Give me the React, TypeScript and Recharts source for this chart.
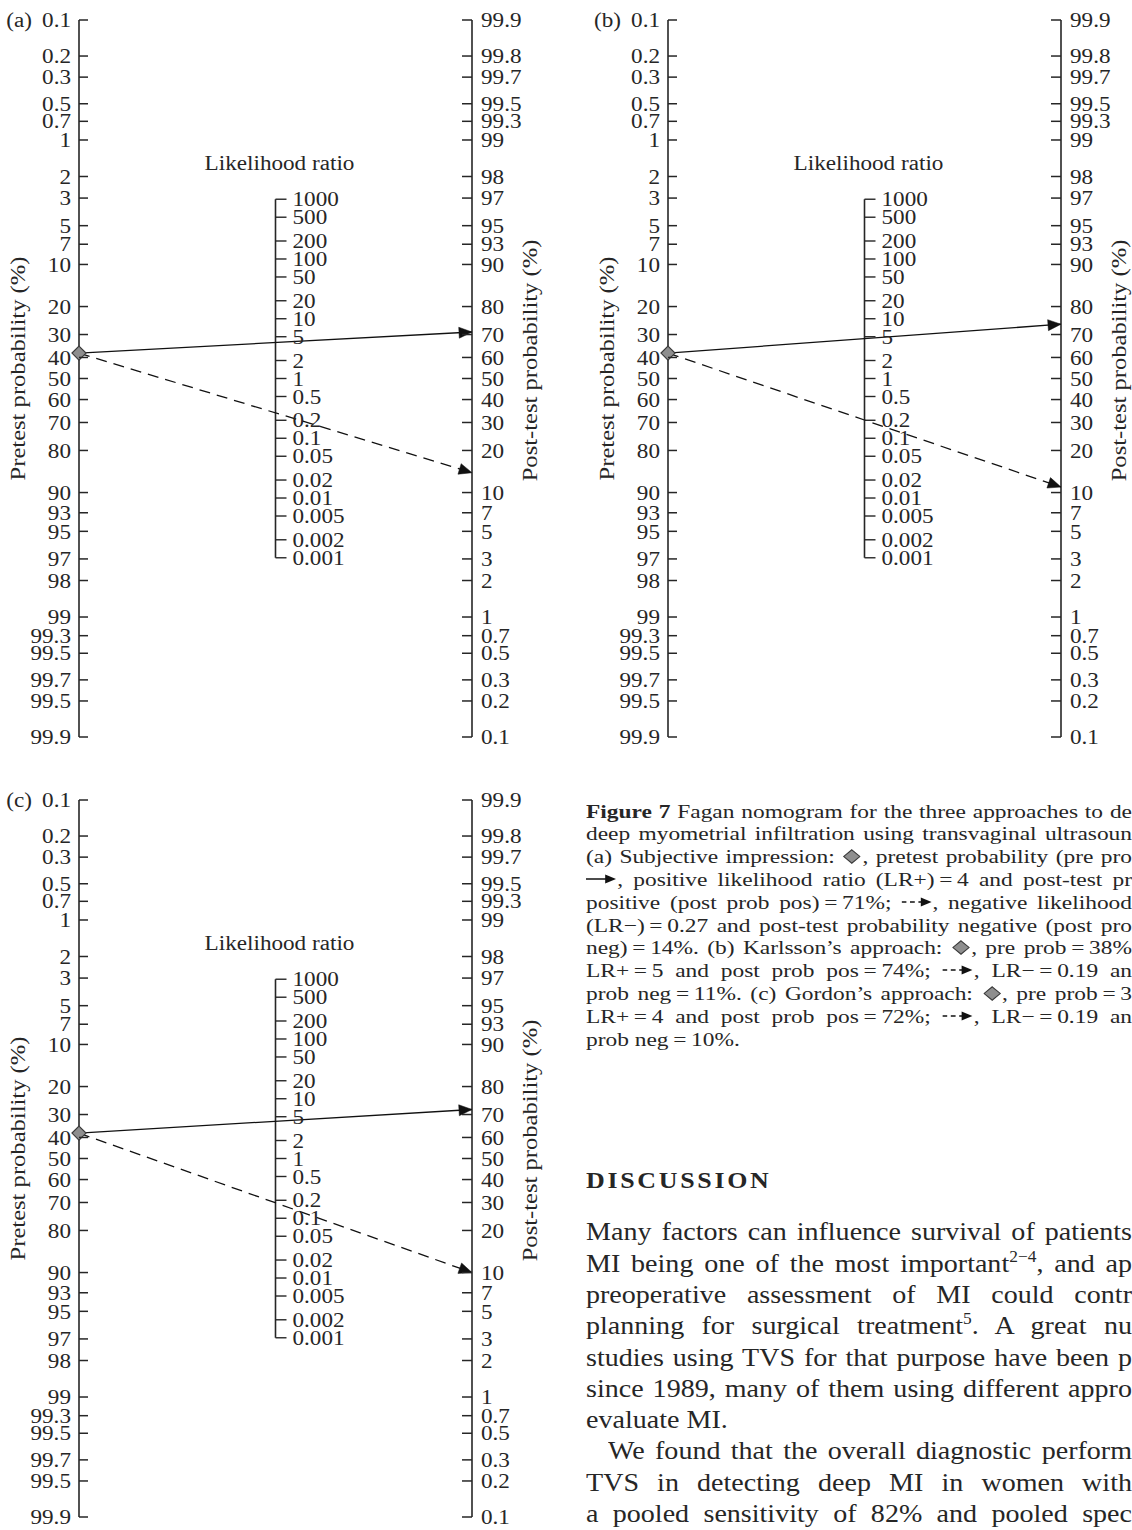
import React from 'react';
import { ComposedChart, XAxis, YAxis, Line, Scatter, ReferenceLine } from 'recharts';

// ---------------- data ----------------
const panelTags = ['(a)', '(b)', '(c)'];
const pretestProb = [38, 38, 38];
const postProbPositive = [71, 74, 72];
const postProbNegative = [14, 11, 10];

const preTickValues = [0.1, 0.2, 0.3, 0.5, 0.7, 1, 2, 3, 5, 7, 10, 20, 30, 40, 50, 60, 70, 80, 90, 93, 95, 97, 98, 99, 99.3, 99.5, 99.7, 99.8, 99.9];
const preTickLabels = ['0.1', '0.2', '0.3', '0.5', '0.7', '1', '2', '3', '5', '7', '10', '20', '30', '40', '50', '60', '70', '80', '90', '93', '95', '97', '98', '99', '99.3', '99.5', '99.7', '99.5', '99.9'];
const postTickValues = [99.9, 99.8, 99.7, 99.5, 99.3, 99, 98, 97, 95, 93, 90, 80, 70, 60, 50, 40, 30, 20, 10, 7, 5, 3, 2, 1, 0.7, 0.5, 0.3, 0.2, 0.1];
const postTickLabels = ['99.9', '99.8', '99.7', '99.5', '99.3', '99', '98', '97', '95', '93', '90', '80', '70', '60', '50', '40', '30', '20', '10', '7', '5', '3', '2', '1', '0.7', '0.5', '0.3', '0.2', '0.1'];
const lrTickValues = [1000, 500, 200, 100, 50, 20, 10, 5, 2, 1, 0.5, 0.2, 0.1, 0.05, 0.02, 0.01, 0.005, 0.002, 0.001];
const lrTickLabels = ['1000', '500', '200', '100', '50', '20', '10', '5', '2', '1', '0.5', '0.2', '0.1', '0.05', '0.02', '0.01', '0.005', '0.002', '0.001'];

const captionLines = [
  '**Figure 7** Fagan nomogram for the three approaches to de',
  'deep myometrial infiltration using transvaginal ultrasoun',
  '(a) Subjective impression: {D}, pretest probability (pre pro',
  '{S}, positive likelihood ratio (LR+) = 4 and post-test pr',
  'positive (post prob pos) = 71%; {A}, negative likelihood',
  '(LR\u2212) = 0.27 and post-test probability negative (post pro',
  'neg) = 14%. (b) Karlsson\u2019s approach: {D}, pre prob = 38%',
  'LR+ = 5 and post prob pos = 74%; {A}, LR\u2212 = 0.19 an',
  'prob neg = 11%. (c) Gordon\u2019s approach: {D}, pre prob = 3',
  'LR+ = 4 and post prob pos = 72%; {A}, LR\u2212 = 0.19 an',
  'prob neg = 10%.',
];
const headingText = 'DISCUSSION';
const discussionLines = [
  'Many factors can influence survival of patients',
  'MI being one of the most important^{2\u22124}, and ap',
  'preoperative assessment of MI could contr',
  'planning for surgical treatment^{5}. A great nu',
  'studies using TVS for that purpose have been p',
  'since 1989, many of them using different appro',
  'evaluate MI.',
  'We found that the overall diagnostic perform',
  'TVS in detecting deep MI in women with',
  'a pooled sensitivity of 82% and pooled spec',
];

// ---------------- helpers ----------------
const FONT = '"Liberation Serif", "Times New Roman", Times, serif';
const INK = '#262626';
const TICK_FS = 20.5;
const TICK_SX = 1.13;

const logit = (pct: number) => Math.log(pct / (100 - pct));
const U_MAX = logit(99.9);
const preTicks = preTickValues.map((p) => -logit(p));
const postTicks = postTickValues.map((p) => logit(p));
const lrData = lrTickValues.map((v, i) => ({ x: 0.5, y: Math.log(v) / 2, label: lrTickLabels[i] }));
const lrTop = Math.log(lrTickValues[0]) / 2;
const lrBottom = Math.log(lrTickValues[lrTickValues.length - 1]) / 2;

const nearestIndex = (arr: number[], v: number) => {
  let best = 0;
  let bd = Infinity;
  arr.forEach((a, i) => {
    const d = Math.abs(a - v);
    if (d < bd) {
      bd = d;
      best = i;
    }
  });
  return best;
};

// text drawn at (x, y) with horizontal stretch (and optional rotation)
const SText = ({ x, y, anchor = 'start', rotate = 0, sx = TICK_SX, children }: any) => (
  <text
    x={0}
    y={0}
    dy="0.35em"
    textAnchor={anchor}
    transform={`translate(${x} ${y}) rotate(${rotate}) scale(${sx} 1)`}
    fontFamily={FONT}
    fontSize={TICK_FS}
    fill={INK}
  >
    {children}
  </text>
);

const PreTick = (props: any) => {
  const { x, y, payload, tag } = props;
  const i = nearestIndex(preTicks, payload.value);
  const v = preTickValues[i];
  return (
    <g>
      <line x1={x} x2={x + 9} y1={y} y2={y} stroke={INK} strokeWidth={1.5} />
      <SText x={x - 8} y={y} anchor="end">
        {preTickLabels[i]}
      </SText>
      {v === 0.1 && (
        <SText x={x - 47} y={y} anchor="end">
          {tag}
        </SText>
      )}
      {v === 50 && (
        <SText x={x - 61} y={y - 10} anchor="middle" rotate={-90} sx={1.2}>
          Pretest probability (%)
        </SText>
      )}
    </g>
  );
};

const PostTick = (props: any) => {
  const { x, y, payload } = props;
  const i = nearestIndex(postTicks, payload.value);
  const v = postTickValues[i];
  return (
    <g>
      <line x1={x - 10} x2={x} y1={y} y2={y} stroke={INK} strokeWidth={1.5} />
      <SText x={x + 9} y={y} anchor="start">
        {postTickLabels[i]}
      </SText>
      {v === 50 && (
        <SText x={x + 58} y={y - 18} anchor="middle" rotate={-90} sx={1.2}>
          Post-test probability (%)
        </SText>
      )}
    </g>
  );
};

const LrTickShape = (props: any) => {
  const { cx, cy, payload } = props;
  return (
    <g>
      <line x1={cx} x2={cx + 11} y1={cy} y2={cy} stroke={INK} strokeWidth={1.4} />
      <SText x={cx + 17} y={cy} anchor="start">
        {payload.label}
      </SText>
    </g>
  );
};

const TitleShape = (props: any) => {
  const { cx, cy, payload } = props;
  return (
    <SText x={cx + 4} y={cy - 36} anchor="middle">
      {payload.label}
    </SText>
  );
};

const DiamondShape = (props: any) => {
  const { cx, cy } = props;
  const r = 7;
  return (
    <polygon
      points={`${cx},${cy - r} ${cx + r},${cy} ${cx},${cy + r} ${cx - r},${cy}`}
      fill="#8e8e8e"
      stroke="#3a3a3a"
      strokeWidth={1.2}
    />
  );
};

const ArrowDot = (props: any) => {
  const { cx, cy, index, points } = props;
  if (index !== 1 || cx == null || cy == null) return <g key={`ad-${index}`} />;
  let ang = 0;
  if (points && points.length > 1) {
    ang = Math.atan2(points[1].y - points[0].y, points[1].x - points[0].x);
  }
  const L = 13;
  const W = 5.5;
  const c = Math.cos(ang);
  const s = Math.sin(ang);
  const bx = cx - L * c;
  const by = cy - L * s;
  const p1 = `${cx},${cy}`;
  const p2 = `${bx - W * s},${by + W * c}`;
  const p3 = `${bx + W * s},${by - W * c}`;
  return <polygon key={`ad-${index}`} points={`${p1} ${p2} ${p3}`} fill="#111" stroke="#111" strokeWidth={0.5} />;
};

function Nomogram({ idx }: { idx: number }) {
  const uPre = -logit(pretestProb[idx]);
  const posData = [
    { x: 0, y: uPre },
    { x: 1, y: logit(postProbPositive[idx]) },
  ];
  const negData = [
    { x: 0, y: uPre },
    { x: 1, y: logit(postProbNegative[idx]) },
  ];
  const preData = [{ x: 0, y: uPre }];
  const titleData = [{ x: 0.5, y: lrTop, label: 'Likelihood ratio' }];
  return (
    <ComposedChart width={560} height={760} margin={{ top: 20, right: 28, bottom: 23, left: 19 }}>
      <XAxis type="number" dataKey="x" domain={[0, 1]} hide />
      <YAxis
        yAxisId="u"
        orientation="left"
        type="number"
        domain={[-U_MAX, U_MAX]}
        ticks={preTicks}
        interval={0}
        tickSize={0}
        tickMargin={0}
        tickLine={false}
        axisLine={{ stroke: INK, strokeWidth: 1.6 }}
        tick={(p: any) => <PreTick {...p} tag={panelTags[idx]} />}
        width={60}
      />
      <YAxis
        yAxisId="post"
        orientation="right"
        type="number"
        domain={[-U_MAX, U_MAX]}
        ticks={postTicks}
        interval={0}
        tickSize={0}
        tickMargin={0}
        tickLine={false}
        axisLine={{ stroke: INK, strokeWidth: 1.6 }}
        tick={(p: any) => <PostTick {...p} />}
        width={60}
      />
      <ReferenceLine
        yAxisId="u"
        segment={[
          { x: 0.5, y: lrTop },
          { x: 0.5, y: lrBottom },
        ]}
        stroke={INK}
        strokeWidth={1.6}
        ifOverflow="visible"
      />
      <Scatter yAxisId="u" data={lrData} dataKey="y" shape={(p: any) => <LrTickShape {...p} />} isAnimationActive={false} />
      <Scatter yAxisId="u" data={titleData} dataKey="y" shape={(p: any) => <TitleShape {...p} />} isAnimationActive={false} />
      <Line
        yAxisId="post"
        data={posData}
        dataKey="y"
        stroke="#111"
        strokeWidth={1.3}
        dot={ArrowDot}
        activeDot={false}
        isAnimationActive={false}
      />
      <Line
        yAxisId="post"
        data={negData}
        dataKey="y"
        stroke="#111"
        strokeWidth={1.3}
        strokeDasharray="11 7"
        dot={ArrowDot}
        activeDot={false}
        isAnimationActive={false}
      />
      <Scatter yAxisId="u" data={preData} dataKey="y" shape={(p: any) => <DiamondShape {...p} />} isAnimationActive={false} />
    </ComposedChart>
  );
}

// ---------------- text helpers ----------------
const DiamondIcon = () => (
  <svg width={15} height={15} style={{ verticalAlign: '-1px', margin: '0 1px' }}>
    <polygon points="7.5,0.8 14.2,7.5 7.5,14.2 0.8,7.5" fill="#8e8e8e" stroke="#3a3a3a" strokeWidth={1} />
  </svg>
);

const ArrowIcon = ({ dashed }: { dashed: boolean }) => (
  <svg width={26} height={12} style={{ verticalAlign: '1px' }}>
    <line x1={0} x2={18} y1={6} y2={6} stroke="#111" strokeWidth={1.3} strokeDasharray={dashed ? '4 3' : undefined} />
    <polygon points="16,1.5 25,6 16,10.5" fill="#111" />
  </svg>
);

function renderTokens(line: string) {
  const txt = line.replace(/ = /g, '\u2009=\u2009');
  const parts = txt.split(/(\{D\}|\{S\}|\{A\}|\*\*[^*]+\*\*|\^\{[^}]+\})/);
  return parts.map((p, i) => {
    if (p === '{D}') return <DiamondIcon key={i} />;
    if (p === '{S}') return <ArrowIcon key={i} dashed={false} />;
    if (p === '{A}') return <ArrowIcon key={i} dashed />;
    if (p.startsWith('**')) return <b key={i}>{p.slice(2, -2)}</b>;
    if (p.startsWith('^{'))
      return (
        <span key={i} style={{ fontSize: '0.62em', position: 'relative', top: '-0.62em' }}>
          {p.slice(2, -1)}
        </span>
      );
    return <React.Fragment key={i}>{p}</React.Fragment>;
  });
}

const TEXT_X = 586;
const TEXT_W = 1132 - TEXT_X;

function TextLine({ line, top, fs, lh, sx, justify, indent, bold, ls }: any) {
  return (
    <div
      style={{
        position: 'absolute',
        left: TEXT_X,
        top,
        width: TEXT_W / sx,
        height: lh,
        lineHeight: `${lh}px`,
        fontSize: fs,
        fontFamily: FONT,
        fontWeight: bold ? 700 : 400,
        letterSpacing: ls || 0,
        color: INK,
        whiteSpace: 'nowrap',
        textAlign: justify ? 'justify' : 'left',
        textAlignLast: justify ? 'justify' : 'left',
        textIndent: indent || 0,
        transform: `scaleX(${sx})`,
        transformOrigin: 'left center',
      } as any}
    >
      {renderTokens(line)}
    </div>
  );
}

const panelPos = [
  { left: 0, top: 0 },
  { left: 589, top: 0 },
  { left: 0, top: 780 },
];

export default function App() {
  const capFs = 19.5;
  const capLh = 22.8;
  const capCenter0 = 812;
  const bodyFs = 25.5;
  const bodyLh = 31.3;
  const bodyCenter0 = 1232;
  return (
    <div
      style={{
        position: 'absolute',
        left: 0,
        top: 0,
        width: 1132,
        height: 1530,
        overflow: 'hidden',
        background: '#fff',
      }}
    >
      {panelPos.map((p, i) => (
        <div key={i} style={{ position: 'absolute', left: p.left, top: p.top, width: 560, height: 760 }}>
          <Nomogram idx={i} />
        </div>
      ))}
      {captionLines.map((l, i) => (
        <TextLine
          key={`c${i}`}
          line={l}
          top={capCenter0 + capLh * i - capLh / 2}
          fs={capFs}
          lh={capLh}
          sx={1.2}
          justify={i < captionLines.length - 1}
        />
      ))}
      <TextLine line={headingText} top={1180 - 15} fs={24} lh={30} sx={1.08} bold ls={2.5} justify={false} />
      {discussionLines.map((l, i) => (
        <TextLine
          key={`d${i}`}
          line={l}
          top={bodyCenter0 + bodyLh * i - bodyLh / 2}
          fs={bodyFs}
          lh={bodyLh}
          sx={1.1}
          justify={i !== 6}
          indent={i === 7 ? 20 : 0}
        />
      ))}
    </div>
  );
}
